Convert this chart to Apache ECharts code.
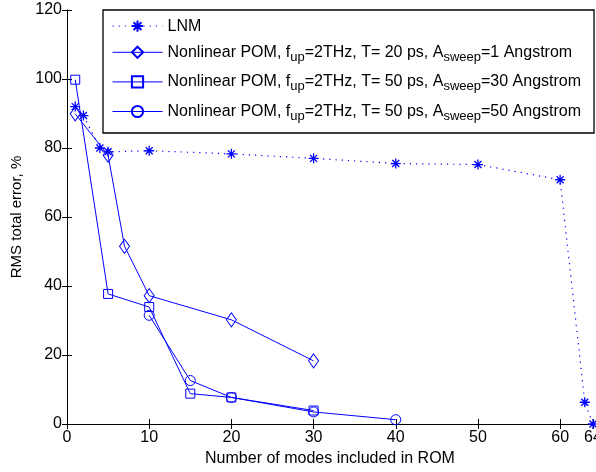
<!DOCTYPE html>
<html><head><meta charset="utf-8">
<script src="https://cdn.jsdelivr.net/npm/echarts@6/dist/echarts.min.js"></script>
<style>html,body{margin:0;padding:0;background:#fff}#c{width:596px;height:472px}</style>
</head><body><div id="c"></div>
<script>
var lnmX = [1,2,4,5,10,20,30,40,50,60,63,64];
var lnmY = [92,89.4,80,78.9,79.2,78.3,77.0,75.5,75.2,70.8,6.3,0];
var diaX = [1,5,7,10,20,30];
var diaY = [89.9,77.9,51.5,37.2,30.2,18.3];
var sqX = [1,5,10,15,20,30];
var sqY = [99.8,37.7,33.9,8.8,7.7,3.9];
var ciX = [10,15,20,30,40];
var ciY = [31.5,12.6,7.7,3.5,1.25];
var names = ['LNM',
  'Nonlinear POM, f_up=2THz, T= 20 ps, A_sweep=1 Angstrom',
  'Nonlinear POM, f_up=2THz, T= 50 ps, A_sweep=30 Angstrom',
  'Nonlinear POM, f_up=2THz, T= 50 ps, A_sweep=50 Angstrom'];
var xLabel = 'Number of modes included in ROM';
var yLabel = 'RMS total error, %';

function pairs(xs, ys){ return xs.map(function(x,i){return [x, ys[i]];}); }
var BLUE = '#0000ff';
var FONT = 'Liberation Sans, Arial, Helvetica, sans-serif';
var star = 'path://M10 0L10 20M0 10L20 10M3 3L17 17M3 17L17 3';

var chart = echarts.init(document.getElementById('c'), null, {renderer:'canvas'});
function mk(name, xs, ys, sym, size, dotted){
  return {
    name: name, type: 'line', data: pairs(xs, ys), symbol: sym, symbolSize: size,
    clip: false, z: dotted ? 2 : 3,
    lineStyle: {color: BLUE, width: dotted ? 1.2 : 1, type: dotted ? [1.2,5] : 'solid'},
    itemStyle: {color: 'none', borderColor: BLUE, borderWidth: dotted ? 1.3 : 1},
    emphasis: {disabled: true}, animation: false
  };
}
chart.setOption({
  animation: false,
  textStyle: {fontFamily: FONT},
  grid: {left: 67, right: 3, top: 10, bottom: 48, containLabel: false, outerBoundsMode: 'none'},
  xAxis: [{
    type: 'value', min: 0, max: 64, interval: 10,
    name: xLabel, nameLocation: 'middle', nameGap: 27,
    nameTextStyle: {fontSize: 16, color: '#000', fontFamily: FONT},
    axisLine: {lineStyle: {color: '#000', width: 1}},
    axisTick: {inside: true, length: 5, lineStyle: {color: '#000'}},
    axisLabel: {fontSize: 16, color: '#000', margin: 6, fontFamily: FONT},
    splitLine: {show: false}
  },{
    type: 'value', min: 0, max: 64, interval: 10, position: 'top',
    axisLine: {lineStyle: {color: '#000', width: 1}},
    axisTick: {inside: true, length: 5, lineStyle: {color: '#000'}},
    axisLabel: {show: false}, splitLine: {show: false}
  }],
  yAxis: [{
    type: 'value', min: 0, max: 120, interval: 20,
    name: yLabel, nameLocation: 'middle', nameGap: 42,
    nameTextStyle: {fontSize: 15, color: '#000', fontFamily: FONT},
    axisLine: {show: true, lineStyle: {color: '#000', width: 1}},
    axisTick: {show: true, inside: true, length: 5, lineStyle: {color: '#000'}},
    axisLabel: {fontSize: 16, color: '#000', margin: 5, fontFamily: FONT},
    splitLine: {show: false}
  },{
    type: 'value', min: 0, max: 120, interval: 20, position: 'right',
    axisLine: {show: true, lineStyle: {color: '#000', width: 1}},
    axisTick: {show: true, inside: true, length: 5, lineStyle: {color: '#000'}},
    axisLabel: {show: false}, splitLine: {show: false}
  }],
  legend: {
    orient: 'vertical', left: 103, top: 10, itemWidth: 50, itemHeight: 14, itemGap: 10,
    padding: [8, 13, 10, 9],
    backgroundColor: '#fff', borderColor: '#000', borderWidth: 1.3,
    data: names, selectedMode: false,
    lineStyle: {width: 1},
    formatter: function(n){
      if (n.indexOf('_') < 0) return n;
      return n.replace(/_(up|sweep)/g, function(m, g){ return '{sub|' + g + '}'; });
    },
    textStyle: {fontSize: 16, color: '#000', fontFamily: FONT,
      rich: {sub: {fontSize: 13, color: '#000', fontFamily: FONT, padding: [10, 0, 0, 0]}}}
  },
  series: [
    mk(names[0], lnmX, lnmY, star, 10, true),
    mk(names[1], diaX, diaY, 'diamond', [10, 14], false),
    mk(names[2], sqX, sqY, 'rect', 9, false),
    mk(names[3], ciX, ciY, 'circle', 10, false)
  ]
});
</script></body></html>
